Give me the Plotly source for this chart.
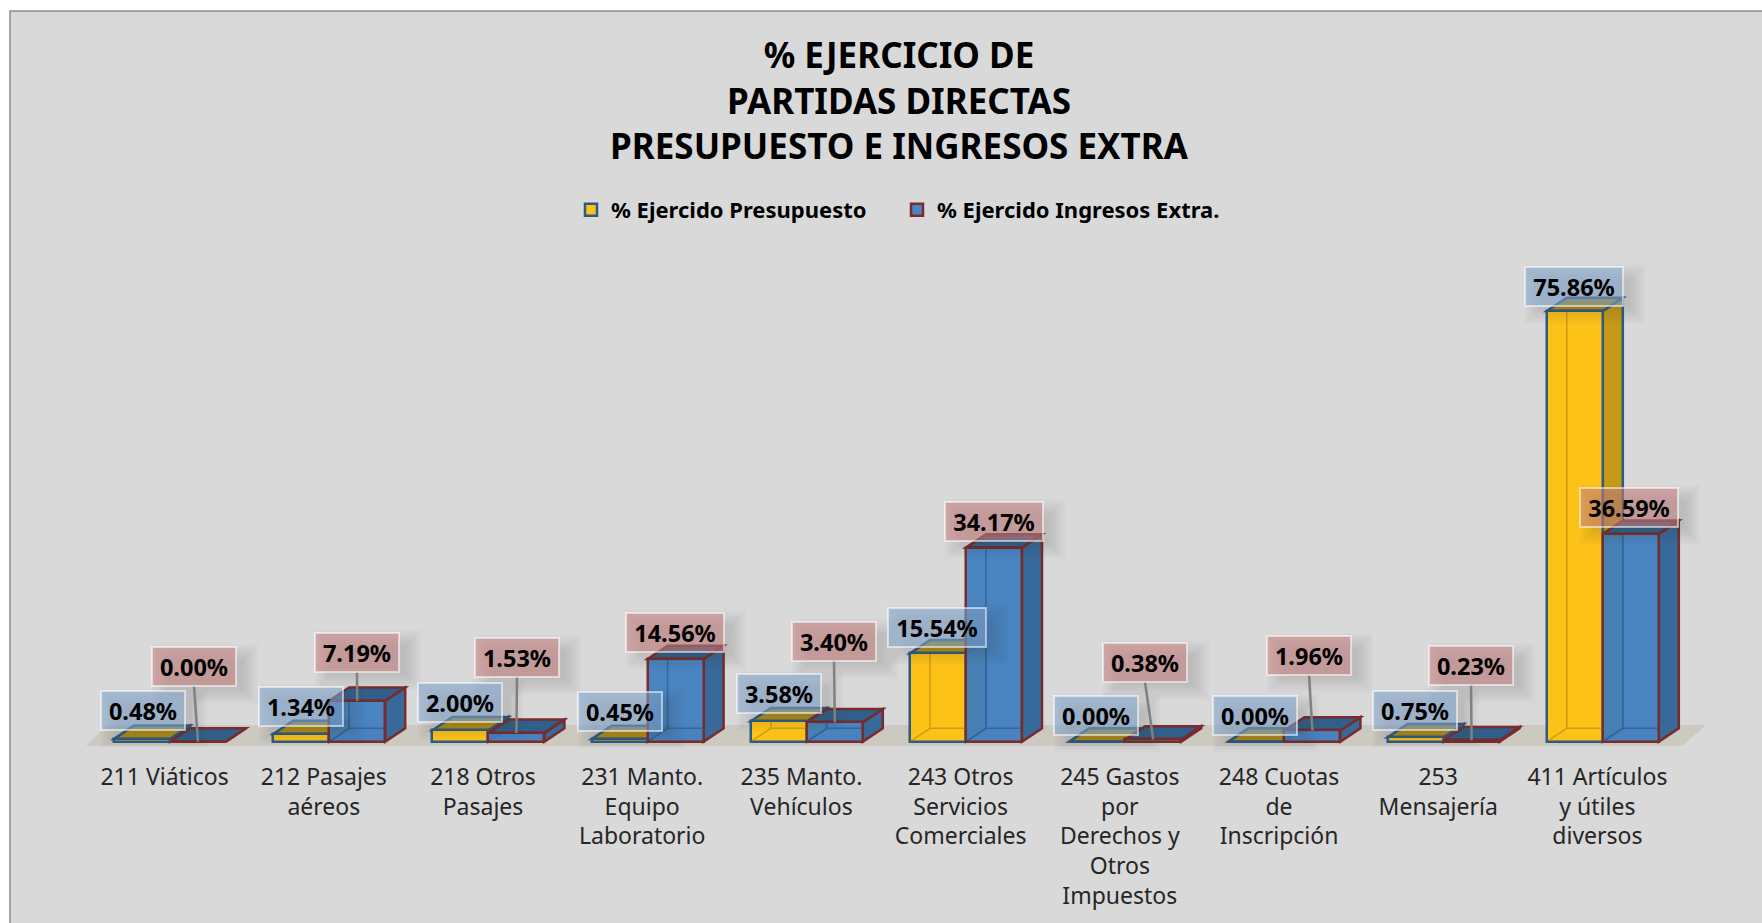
import plotly.graph_objects as go

# ---------- data ----------
categories = ["211 Viáticos", "212 Pasajes<br>aéreos", "218 Otros<br>Pasajes",
              "231 Manto.<br>Equipo<br>Laboratorio", "235 Manto.<br>Vehículos",
              "243 Otros<br>Servicios<br>Comerciales",
              "245 Gastos<br>por<br>Derechos y<br>Otros<br>Impuestos",
              "248 Cuotas<br>de<br>Inscripción", "253<br>Mensajería",
              "411 Artículos<br>y útiles<br>diversos"]
presupuesto = [0.48, 1.34, 2.00, 0.45, 3.58, 15.54, 0.00, 0.00, 0.75, 75.86]
ingresos = [0.00, 7.19, 1.53, 14.56, 3.40, 34.17, 0.38, 1.96, 0.23, 36.59]
series_names = ["% Ejercido Presupuesto", "% Ejercido Ingresos Extra."]
title_text = "% EJERCICIO DE<br>PARTIDAS DIRECTAS<br>PRESUPUESTO E INGRESOS EXTRA"

# ---------- layout geometry (pixels of the 1762x923 page) ----------
W, H = 1762, 923
PX_CAT = 159.2          # width of one category
PX_X0 = 164.6           # centre of the first category
PX_BASE = 741.6         # y pixel of value 0
PX_UNIT = 5.677         # pixels per 1 %
PLOT_L, PLOT_R, PLOT_T, PLOT_B = 85.0, 1709.0, 200.0, 753.0

def dx(px):
    return px / PX_CAT
def dy(px):
    return px / PX_UNIT
def xd(px):
    return (px - PX_X0) / PX_CAT
def yd(px):
    return (PX_BASE - px) / PX_UNIT
def xp(px):
    return (px - PLOT_L) / (PLOT_R - PLOT_L)
def yp(px):
    return (PLOT_B - px) / (PLOT_B - PLOT_T)

BAR_W = dx(56.0)
DEPTH_X, DEPTH_Y = dx(20), dy(13.3)
OFF_A = dx(-50.6)
OFF_B = dx(5.4)

YEL, YEL_LINE, YEL_SIDE, YEL_TOP = "#FCC218", "#2C5A87", "#C49A17", "#B48F12"
BLU, BLU_LINE, BLU_SIDE, BLU_TOP = "rgba(62,125,190,0.93)", "#7A2B2B", "#376A9A", "#2F5F8A"

# label centres in page pixels, one pair per category (presupuesto, ingresos)
label_px_a = [(143, 710), (301, 706), (460, 702), (620, 711), (779, 693),
              (937, 627), (1096, 715), (1255, 715), (1415, 710), (1574, 286)]
label_px_b = [(194, 666), (357, 652), (517, 657), (675, 632), (834, 641),
              (994, 521), (1145, 662), (1309, 655), (1471, 665), (1629, 507)]
has_leader = [True, True, True, False, True, False, True, True, True, False]

shapes = []
# panel
shapes.append(dict(type="rect", xref="paper", yref="paper", layer="below",
                   x0=xp(10), x1=xp(1790), y0=yp(950), y1=yp(11),
                   fillcolor="#D9D9D9", line=dict(color="#8C8C8C", width=1.5)))
# floor
shapes.append(dict(type="path", xref="x", yref="y", layer="below",
                   path=f"M{xd(86)},{yd(746)} L{xd(107)},{yd(725)} L{xd(1706)},{yd(725)} L{xd(1682)},{yd(746)} Z",
                   fillcolor="#CCC9C1", line=dict(width=0)))

def box_faces(i, v, off, top, side, line):
    x0 = i + off
    x1 = x0 + BAR_W
    out = []
    out.append(dict(type="path", xref="x", yref="y", layer="below",
                    path=f"M{x1},0 L{x1+DEPTH_X},{DEPTH_Y} L{x1+DEPTH_X},{v+DEPTH_Y} L{x1},{v} Z",
                    fillcolor=side, line=dict(color=line, width=2.5)))
    out.append(dict(type="path", xref="x", yref="y", layer="below",
                    path=f"M{x0},{v} L{x0+DEPTH_X},{v+DEPTH_Y} L{x1+DEPTH_X},{v+DEPTH_Y} L{x1},{v} Z",
                    fillcolor=top, line=dict(color=line, width=2.5)))
    return out

def inner_lines(i, v, off, color):
    x0 = i + off
    x1 = x0 + BAR_W
    return dict(type="path", xref="x", yref="y", layer="above",
                path=f"M{x0},0 L{x0+DEPTH_X},{DEPTH_Y} L{x0+DEPTH_X},{max(v, DEPTH_Y)} "
                     f"M{x0+DEPTH_X},{DEPTH_Y} L{x1},{DEPTH_Y}",
                line=dict(color=color, width=1.5))

for i, v in enumerate(presupuesto):
    shapes += box_faces(i, v, OFF_A, YEL_TOP, YEL_SIDE, YEL_LINE)
for i, v in enumerate(ingresos):
    shapes += box_faces(i, v, OFF_B, BLU_TOP, BLU_SIDE, BLU_LINE)
for i, v in enumerate(presupuesto):
    if v > dy(13.3):
        shapes.append(inner_lines(i, v, OFF_A, "rgba(150,110,10,0.45)"))
for i, v in enumerate(ingresos):
    if v > dy(13.3):
        shapes.append(inner_lines(i, v, OFF_B, "rgba(35,80,125,0.55)"))

# soft label shadows, then leaders, then annotations
def shadow(cx, cy, w, h):
    out = []
    for grow in (10, 7, 4, 1, -2, -5):
        out.append(dict(type="rect", xref="paper", yref="paper", layer="above",
                        x0=xp(cx - w/2 + 11 - grow), x1=xp(cx + w/2 + 11 + grow),
                        y0=yp(cy + h/2 + 8 + grow), y1=yp(cy - h/2 + 8 - grow),
                        fillcolor="rgba(70,70,70,0.032)", line=dict(width=0)))
    return out

annotations = []
def fmt(v):
    return f"{v:.2f}%"

for i in range(len(categories)):
    for v, (cx, cy), fill in ((presupuesto[i], label_px_a[i], "rgba(129,165,207,0.55)"),
                              (ingresos[i], label_px_b[i], "rgba(200,125,125,0.55)")):
        w = 100 if v >= 10 else 86
        shapes += shadow(cx, cy, w, 39)
        annotations.append(dict(xref="x", yref="y", x=xd(cx), y=yd(cy), text=f"<b>{fmt(v)}</b>",
                                showarrow=False, xanchor="center", yanchor="middle",
                                bgcolor=fill, bordercolor="rgba(255,255,255,0.55)", borderwidth=2,
                                borderpad=3, width=w - 10, height=31,
                                font=dict(family="Noto Sans", size=23.5, color="#000000")))
    if has_leader[i]:
        cx, cy = label_px_b[i]
        shapes.append(dict(type="line", xref="x", yref="y", layer="above",
                           x0=xd(cx), y0=yd(cy + 20),
                           x1=i + OFF_B + BAR_W / 2, y1=ingresos[i],
                           line=dict(color="#808080", width=2.5)))

fig = go.Figure()
xs = list(range(len(categories)))
fig.add_trace(go.Bar(name=series_names[0], x=xs, y=presupuesto, offset=OFF_A, width=BAR_W,
                     marker=dict(color=YEL, line=dict(color=YEL_LINE, width=2.5))))
fig.add_trace(go.Bar(name=series_names[1], x=xs, y=ingresos, offset=OFF_B, width=BAR_W,
                     marker=dict(color=BLU, line=dict(color=BLU_LINE, width=2.5))))

fig.update_layout(
    width=W, height=H, autosize=False,
    margin=dict(l=PLOT_L, r=W - PLOT_R, t=PLOT_T, b=H - PLOT_B, autoexpand=False),
    paper_bgcolor="#FFFFFF", plot_bgcolor="rgba(0,0,0,0)",
    barmode="overlay", bargap=0,
    title=dict(text=f"<b>{title_text}</b>", x=899 / W, xanchor="center",
               y=1 - 68 / H, yanchor="middle",
               font=dict(family="Noto Sans", size=35, color="#000000")),
    legend=dict(orientation="h", x=xp(897), xanchor="center", y=yp(210), yanchor="middle",
                bgcolor="rgba(0,0,0,0)", entrywidth=281, entrywidthmode="pixels",
                font=dict(family="Noto Sans", size=22, color="#000000", weight="bold")),
    xaxis=dict(range=[xd(PLOT_L), xd(PLOT_R)], tickmode="array", tickvals=xs, ticktext=categories,
               ticks="outside", ticklen=3, tickcolor="rgba(0,0,0,0)", showgrid=False,
               zeroline=False, showline=False, automargin=False,
               tickfont=dict(family="Noto Sans", size=23, color="#262626")),
    yaxis=dict(range=[yd(PLOT_B), yd(PLOT_T)], visible=False, showgrid=False, zeroline=False),
    shapes=shapes, annotations=annotations, showlegend=True,
)

fig.write_html("out.html", include_plotlyjs=True, config=dict(displayModeBar=False),
               post_script="document.body.style.margin='0';document.body.style.overflow='hidden';")
